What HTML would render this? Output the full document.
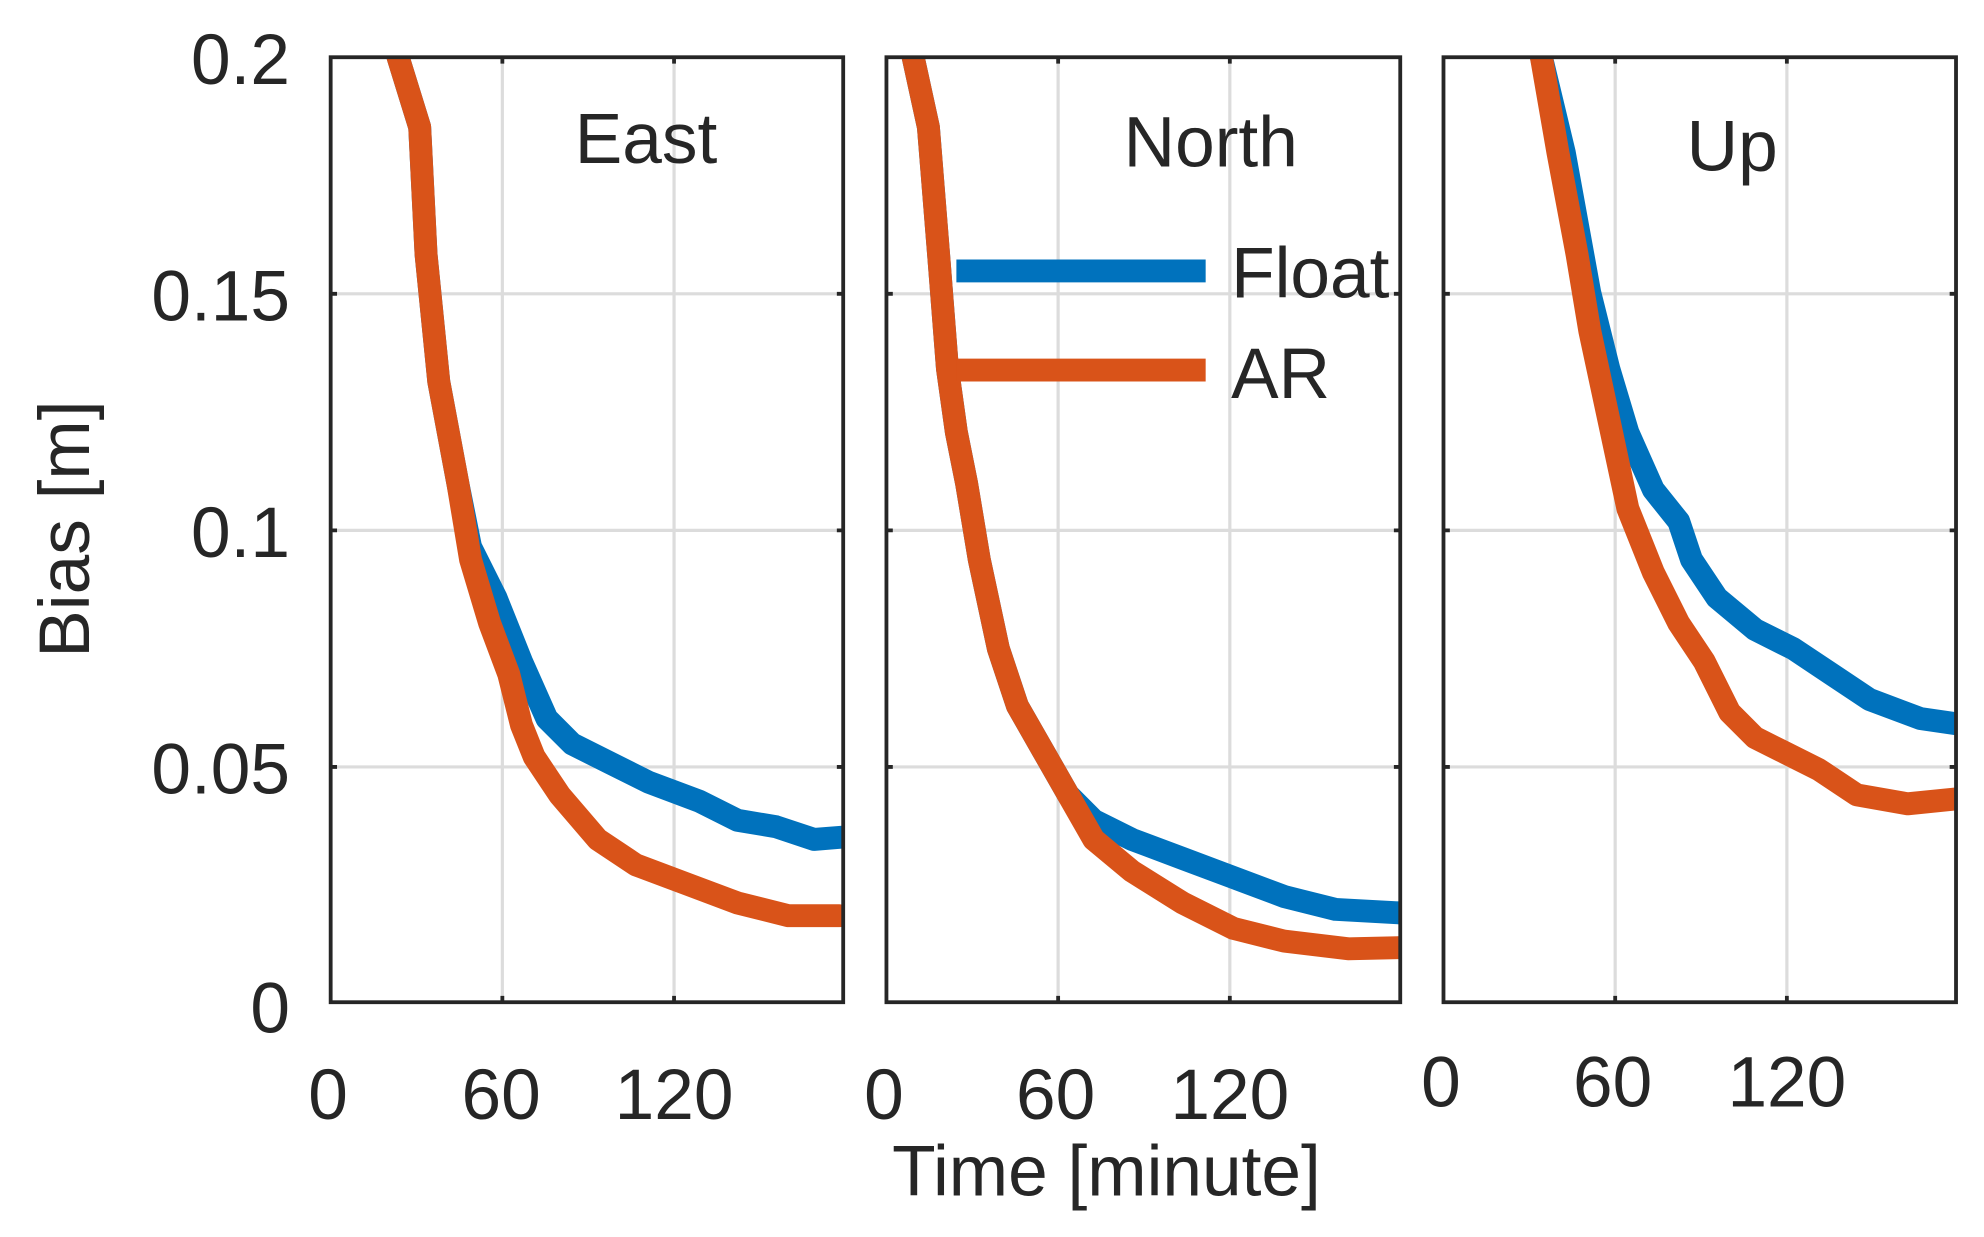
<!DOCTYPE html>
<html><head><meta charset="utf-8"><style>html,body{margin:0;padding:0;background:#fff}svg{display:block}</style></head>
<body>
<svg width="1984" height="1237" viewBox="0 0 1560 972.6" preserveAspectRatio="none" xmlns="http://www.w3.org/2000/svg" font-family="Liberation Sans, Arial, sans-serif">
<defs>
<clipPath id="c1"><rect x="260" y="45" width="403" height="743"/></clipPath>
<clipPath id="c2"><rect x="697" y="45" width="404" height="743"/></clipPath>
<clipPath id="c3"><rect x="1135" y="45" width="403" height="743"/></clipPath>
</defs>
<g stroke="#dcdcdc" stroke-width="2.5">
<path d="M260 231H663M260 417H663M260 603H663M395 45V788M530 45V788"/>
<path d="M697 231H1101M697 417H1101M697 603H1101M832 45V788M967 45V788"/>
<path d="M1135 231H1538M1135 417H1538M1135 603H1538M1270 45V788M1405 45V788"/>
</g>
<g fill="none" stroke-width="18" stroke-linejoin="round" stroke-linecap="round">
<g clip-path="url(#c1)">
<polyline stroke="#0072BD" points="313,45 330,100 335,200 345,300 360,380 370,430 390,470 410,520 430,565 450,585 480,600 510,615 550,630 580,645 610,650 640,660 665,658"/>
<polyline stroke="#D95319" points="313,45 330,100 335,200 345,300 360,380 370,440 385,490 400,530 410,570 420,595 440,625 470,660 500,680 540,695 580,710 620,720 660,720"/>
</g>
<g clip-path="url(#c2)">
<polyline stroke="#0072BD" points="718,45 730,100 738,200 745,290 752,340 760,380 770,440 785,510 800,555 820,590 840,625 860,645 890,660 930,675 970,690 1010,705 1050,715 1105,718"/>
<polyline stroke="#D95319" points="718,45 730,100 738,200 745,290 752,340 760,380 770,440 785,510 800,555 820,590 840,625 860,660 890,685 930,710 970,730 1010,740 1060,746 1105,745"/>
</g>
<g clip-path="url(#c3)">
<polyline stroke="#0072BD" points="1212,45 1230,120 1250,230 1265,290 1280,340 1300,385 1320,410 1330,440 1350,470 1380,495 1410,510 1440,530 1470,550 1510,565 1545,570"/>
<polyline stroke="#D95319" points="1212,45 1225,120 1240,200 1250,260 1265,330 1280,400 1300,450 1320,490 1340,520 1360,560 1380,580 1400,590 1430,605 1460,625 1500,632 1540,628"/>
</g>
<line x1="752" y1="213" x2="948" y2="213" stroke="#0072BD" stroke-linecap="butt"/>
<line x1="752" y1="291" x2="948" y2="291" stroke="#D95319" stroke-linecap="butt"/>
</g>
<g fill="none" stroke="#262626" stroke-width="3">
<rect x="260" y="45" width="403" height="743"/>
<rect x="697" y="45" width="404" height="743"/>
<rect x="1135" y="45" width="403" height="743"/>
<path d="M260 231h5M260 417h5M260 603h5M663 231h-5M663 417h-5M663 603h-5M395 788v-5M530 788v-5M395 45v5M530 45v5"/>
<path d="M697 231h5M697 417h5M697 603h5M1101 231h-5M1101 417h-5M1101 603h-5M832 788v-5M967 788v-5M832 45v5M967 45v5"/>
<path d="M1135 231h5M1135 417h5M1135 603h5M1538 231h-5M1538 417h-5M1538 603h-5M1270 788v-5M1405 788v-5M1270 45v5M1405 45v5"/>
</g>
<g fill="#262626" font-size="56">
<g text-anchor="end">
<text x="228" y="66">0.2</text>
<text x="228" y="252">0.15</text>
<text x="228" y="438">0.1</text>
<text x="228" y="624">0.05</text>
<text x="228" y="812">0</text>
</g>
<g text-anchor="middle">
<text x="258" y="880">0</text><text x="394" y="880">60</text><text x="530" y="880">120</text>
<text x="695" y="880">0</text><text x="830" y="880">60</text><text x="967" y="880">120</text>
<text x="1133" y="870">0</text><text x="1268" y="870">60</text><text x="1405" y="870">120</text>
<text x="870" y="940">Time [minute]</text>
<text x="508" y="128">East</text>
<text x="952" y="131">North</text>
<text x="1362" y="134">Up</text>
<text transform="translate(70,416) rotate(-90)">Bias [m]</text>
</g>
<text x="968" y="234">Float</text>
<text x="968" y="313">AR</text>
</g>
</svg>
</body></html>
